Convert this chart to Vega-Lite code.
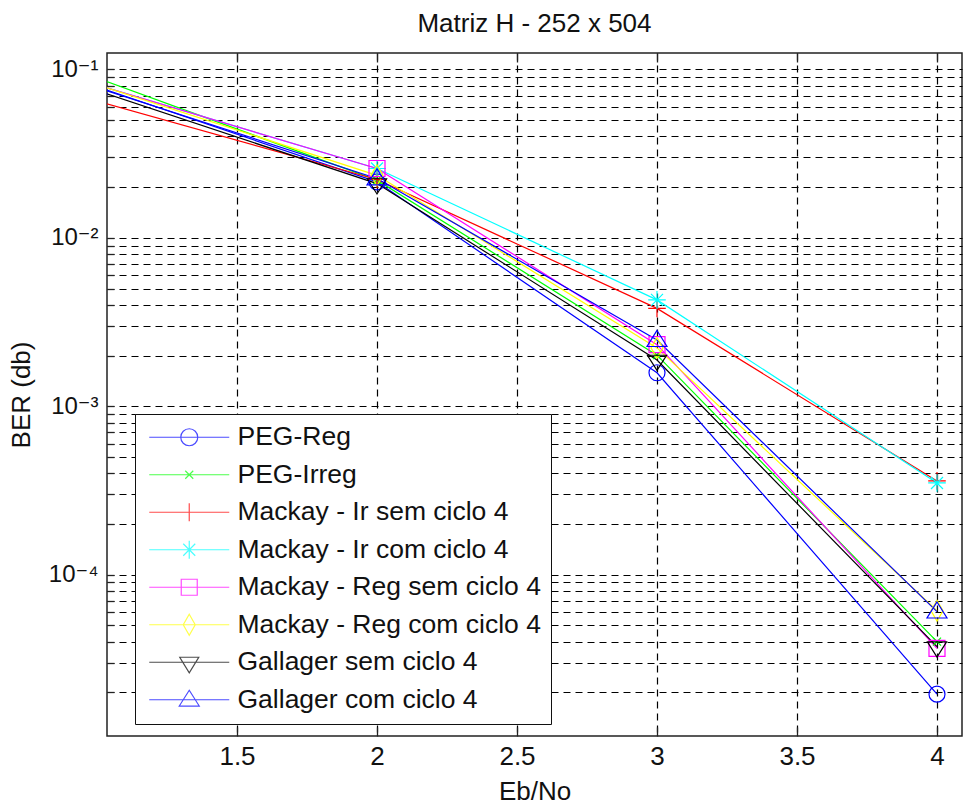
{
  "$schema": "https://vega.github.io/schema/vega-lite/v6.json",
  "width": 855,
  "height": 683,
  "autosize": {"type": "none"},
  "padding": {"left": 107, "top": 53, "right": 1, "bottom": 70},
  "background": "white",
  "title": {"text": "Matriz H - 252 x 504", "fontSize": 26, "fontWeight": "normal", "font": "Liberation Sans", "color": "#111", "offset": 15},
  "data": {"values": [
    {"s": "PEG-Reg", "x": 1, "y": 0.079},
    {"s": "PEG-Reg", "x": 2, "y": 0.0215},
    {"s": "PEG-Reg", "x": 3, "y": 0.00158},
    {"s": "PEG-Reg", "x": 4, "y": 0.0000195},
    {"s": "PEG-Irreg", "x": 1, "y": 0.089},
    {"s": "PEG-Irreg", "x": 2, "y": 0.022},
    {"s": "PEG-Irreg", "x": 3, "y": 0.00201},
    {"s": "PEG-Irreg", "x": 4, "y": 0.00004},
    {"s": "Mackay - Ir sem ciclo 4", "x": 1, "y": 0.0648},
    {"s": "Mackay - Ir sem ciclo 4", "x": 2, "y": 0.0222},
    {"s": "Mackay - Ir sem ciclo 4", "x": 3, "y": 0.00381},
    {"s": "Mackay - Ir sem ciclo 4", "x": 4, "y": 0.00036},
    {"s": "Mackay - Ir com ciclo 4", "x": 1, "y": 0.081},
    {"s": "Mackay - Ir com ciclo 4", "x": 2, "y": 0.0258},
    {"s": "Mackay - Ir com ciclo 4", "x": 3, "y": 0.00428},
    {"s": "Mackay - Ir com ciclo 4", "x": 4, "y": 0.00035},
    {"s": "Mackay - Reg sem ciclo 4", "x": 1, "y": 0.081},
    {"s": "Mackay - Reg sem ciclo 4", "x": 2, "y": 0.0258},
    {"s": "Mackay - Reg sem ciclo 4", "x": 3, "y": 0.00232},
    {"s": "Mackay - Reg sem ciclo 4", "x": 4, "y": 0.0000365},
    {"s": "Mackay - Reg com ciclo 4", "x": 1, "y": 0.0812},
    {"s": "Mackay - Reg com ciclo 4", "x": 2, "y": 0.0235},
    {"s": "Mackay - Reg com ciclo 4", "x": 3, "y": 0.00222},
    {"s": "Mackay - Reg com ciclo 4", "x": 4, "y": 0.000061},
    {"s": "Gallager sem ciclo 4", "x": 1, "y": 0.0748},
    {"s": "Gallager sem ciclo 4", "x": 2, "y": 0.021},
    {"s": "Gallager sem ciclo 4", "x": 3, "y": 0.00188},
    {"s": "Gallager sem ciclo 4", "x": 4, "y": 0.0000373},
    {"s": "Gallager com ciclo 4", "x": 1, "y": 0.078},
    {"s": "Gallager com ciclo 4", "x": 2, "y": 0.0225},
    {"s": "Gallager com ciclo 4", "x": 3, "y": 0.00247},
    {"s": "Gallager com ciclo 4", "x": 4, "y": 0.0000603}
  ]},
  "resolve": {"axis": {"x": "independent", "y": "independent"}},
  "encoding": {
    "x": {"field": "x", "type": "quantitative", "axis": null},
    "y": {"field": "y", "type": "quantitative", "axis": null},
    "color": {"field": "s", "type": "nominal"}
  },
  "layer": [
    {
      "mark": {"type": "line", "clip": true, "strokeWidth": 1.2},
      "encoding": {
        "x": {"field": "x", "type": "quantitative",
          "scale": {"domain": [1.0357, 4.0893], "nice": false, "zero": false},
          "axis": {"title": "Eb/No", "values": [1.5, 2, 2.5, 3, 3.5, 4], "format": "~g",
            "grid": true, "gridDash": [7, 5], "gridColor": "#000", "gridWidth": 1.2, "gridOpacity": 1,
            "domain": false, "ticks": true, "tickSize": -9, "tickColor": "#222", "tickWidth": 1.3,
            "labelPadding": 16, "labelFontSize": 26, "labelFont": "Liberation Sans", "labelColor": "#111",
            "titleFontSize": 26, "titleFont": "Liberation Sans", "titleFontWeight": "normal", "titleColor": "#111", "titlePadding": 9}},
        "y": {"field": "y", "type": "quantitative",
          "scale": {"type": "log", "domain": [0.000011, 0.1252], "nice": false},
          "axis": {"title": "BER (db)",
            "values": [0.00002, 0.00003, 0.00004, 0.00005, 0.00006, 0.00007, 0.00008, 0.00009,
                       0.0001, 0.0002, 0.0003, 0.0004, 0.0005, 0.0006, 0.0007, 0.0008, 0.0009,
                       0.001, 0.002, 0.003, 0.004, 0.005, 0.006, 0.007, 0.008, 0.009,
                       0.01, 0.02, 0.03, 0.04, 0.05, 0.06, 0.07, 0.08, 0.09, 0.1],
            "labelExpr": "abs(log(datum.value)/LN10 - round(log(datum.value)/LN10)) < 0.001 ? '10' + ['\u207b\u2075','\u207b\u2074','\u207b\u00b3','\u207b\u00b2','\u207b\u00b9'][round(log(datum.value)/LN10) + 5] : ''",
            "grid": true, "gridDash": [7, 5], "gridColor": "#000", "gridWidth": 1.2, "gridOpacity": 1,
            "domain": false, "ticks": true, "tickSize": -7, "tickColor": "#222", "tickWidth": 1.3,
            "labelPadding": 16, "labelFontSize": 24, "labelFont": "Liberation Sans, DejaVu Sans", "labelColor": "#111",
            "titleFontSize": 26, "titleFont": "Liberation Sans", "titleFontWeight": "normal", "titleColor": "#111", "titlePadding": 14}},
        "color": {"field": "s", "type": "nominal",
          "scale": {"domain": ["PEG-Reg", "PEG-Irreg", "Mackay - Ir sem ciclo 4", "Mackay - Ir com ciclo 4", "Mackay - Reg sem ciclo 4", "Mackay - Reg com ciclo 4", "Gallager sem ciclo 4", "Gallager com ciclo 4"],
                    "range": ["#0000ff", "#00ff00", "#ff0000", "#00ffff", "#ff00ff", "#ffff00", "#000000", "#0000ff"]},
          "legend": {"title": null, "orient": "none", "legendX": 28, "legendY": 361,
            "fillColor": "white", "strokeColor": "#111", "padding": 10,
            "labelFont": "Liberation Sans", "labelFontSize": 26.5, "labelColor": "#111", "labelLimit": 600,
            "symbolSize": 400, "symbolOffset": 31, "labelOffset": 35, "rowPadding": 10.5, "symbolStrokeWidth": 1.2, "symbolFillColor": "transparent"}}
      }
    },
    {
      "transform": [{"filter": "false"}],
      "mark": {"type": "point", "filled": false, "strokeWidth": 1.2, "size": 400, "clip": true},
      "encoding": {
        "x": {"field": "x", "type": "quantitative",
          "axis": {"orient": "top", "title": null, "values": [1.5, 2, 2.5, 3, 3.5, 4], "labels": false, "grid": false, "domain": false, "ticks": true, "tickSize": -9, "tickColor": "#222", "tickWidth": 1.3}},
        "shape": {"field": "s", "type": "nominal",
          "scale": {"domain": ["PEG-Reg", "PEG-Irreg", "Mackay - Ir sem ciclo 4", "Mackay - Ir com ciclo 4", "Mackay - Reg sem ciclo 4", "Mackay - Reg com ciclo 4", "Gallager sem ciclo 4", "Gallager com ciclo 4"],
            "range": [
              "M-4,0H4M0.85,0A0.85,0.85,0,1,1,-0.85,0A0.85,0.85,0,1,1,0.85,0Z",
              "M-4,0H4M-0.4,-0.4L0.4,0.4M-0.4,0.4L0.4,-0.4",
              "M-4,0H4M0,-0.9V0.9",
              "M-4,0H4M0,-0.9V0.9M-0.6,-0.6L0.6,0.6M-0.6,0.6L0.6,-0.6",
              "M-4,0H4M-0.8,-0.8H0.8V0.8H-0.8Z",
              "M-4,0H4M0,-1.05L0.6,0L0,1.05L-0.6,0Z",
              "M-4,0H4M-0.95,-0.5H0.95L0,1.05Z",
              "M-4,0H4M0,-0.95L1,0.63H-1Z"]}}
      }
    },
    {"transform": [{"filter": "datum.s === 'PEG-Reg'"}], "mark": {"type": "point", "clip": true, "filled": false, "strokeWidth": 1.2, "opacity": 1, "size": 256, "shape": "M1,0A1,1,0,1,1,-1,0A1,1,0,1,1,1,0Z"}},
    {"transform": [{"filter": "datum.s === 'PEG-Irreg'"}], "mark": {"type": "point", "clip": true, "filled": false, "strokeWidth": 1.2, "opacity": 1, "size": 256, "shape": "M-0.5,-0.5L0.5,0.5M-0.5,0.5L0.5,-0.5"}},
    {"transform": [{"filter": "datum.s === 'Mackay - Ir sem ciclo 4'"}], "mark": {"type": "point", "clip": true, "filled": false, "strokeWidth": 1.2, "opacity": 1, "size": 256, "shape": "M-1.1,0H1.1M0,-1.1V1.1"}},
    {"transform": [{"filter": "datum.s === 'Mackay - Ir com ciclo 4'"}], "mark": {"type": "point", "clip": true, "filled": false, "strokeWidth": 1.2, "opacity": 1, "size": 256, "shape": "M-1.1,0H1.1M0,-1.1V1.1M-0.75,-0.75L0.75,0.75M-0.75,0.75L0.75,-0.75"}},
    {"transform": [{"filter": "datum.s === 'Mackay - Reg sem ciclo 4'"}], "mark": {"type": "point", "clip": true, "filled": false, "strokeWidth": 1.2, "opacity": 1, "size": 256, "shape": "M-1,-1H1V1H-1Z"}},
    {"transform": [{"filter": "datum.s === 'Mackay - Reg com ciclo 4'"}], "mark": {"type": "point", "clip": true, "filled": false, "strokeWidth": 1.2, "opacity": 1, "size": 256, "shape": "M0,-1.3L0.75,0L0,1.3L-0.75,0Z"}},
    {"transform": [{"filter": "datum.s === 'Gallager sem ciclo 4'"}], "mark": {"type": "point", "clip": true, "filled": false, "strokeWidth": 1.2, "opacity": 1, "size": 256, "shape": "M-1.2,-0.6H1.2L0,1.3Z"}},
    {"transform": [{"filter": "datum.s === 'Gallager com ciclo 4'"}], "mark": {"type": "point", "clip": true, "filled": false, "strokeWidth": 1.2, "opacity": 1, "size": 256, "shape": "M0,-1.2L1.25,0.8H-1.25Z"}}
  ],
  "config": {
    "view": {"stroke": "#222", "strokeWidth": 1.5},
    "font": "Liberation Sans"
  }
}
